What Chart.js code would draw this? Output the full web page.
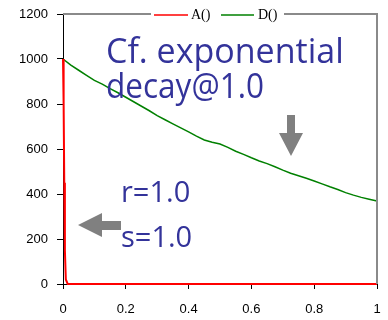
<!DOCTYPE html>
<html>
<head>
<meta charset="utf-8">
<script src="https://cdn.jsdelivr.net/npm/chart.js@4/dist/chart.umd.min.js"></script>
<style>
html,body{margin:0;padding:0;background:#fff;}
#wrap{width:388px;height:320px;}
</style>
</head>
<body>
<div id="wrap"><canvas id="grafico" width="388" height="320"></canvas></div>
<script>
// datos
const aX = [0, 0.002, 0.004, 0.006, 0.009, 0.015, 1];
const aY = [1000, 800, 450, 150, 20, 0, 0];

const dX = [0, 0.025, 0.05, 0.075, 0.1, 0.125, 0.15, 0.175, 0.2, 0.225, 0.25, 0.275, 0.3, 0.325, 0.35, 0.375, 0.4,
  0.425, 0.45, 0.475, 0.5, 0.525, 0.55, 0.575, 0.6, 0.625, 0.65, 0.675, 0.7, 0.725, 0.75, 0.775, 0.8,
  0.825, 0.85, 0.875, 0.9, 0.925, 0.95, 0.975, 1];
const dY = [1000, 973, 950, 927, 905, 888, 868, 850, 830, 810, 790, 770, 748, 730, 712, 694, 676,
  657, 640, 630, 622, 607, 590, 576, 561, 547, 535, 521, 506, 492, 481, 470, 458,
  445, 432, 420, 406, 395, 385, 377, 369];

const serieNombres = ["A()", "D()"];
const yTicks = [0, 200, 400, 600, 800, 1000, 1200];
const xTicks = [0, 0.2, 0.4, 0.6, 0.8, 1];

const puntos = (xs, ys) => xs.map((x, i) => ({x: x, y: ys[i]}));

const marco = {
  id: "marco",
  afterDraw(chart) {
    const c = chart.ctx, a = chart.chartArea;
    c.save();
    // borde arriba y derecha
    c.strokeStyle = "#8a8a8a";
    c.lineWidth = 2;
    c.beginPath();
    c.moveTo(a.left, a.top);
    c.lineTo(a.right, a.top);
    c.lineTo(a.right, a.bottom);
    c.stroke();
    // leyenda encima del borde
    c.fillStyle = "#fff";
    c.fillRect(151, 6, 133, 17);
    c.font = "14px 'Liberation Serif', serif";
    c.textBaseline = "middle";
    c.fillStyle = "#000";
    c.lineWidth = 1.5;
    c.strokeStyle = "#ff0000";
    c.beginPath(); c.moveTo(154, 15); c.lineTo(188, 15); c.stroke();
    c.fillText(serieNombres[0], 191, 15);
    c.strokeStyle = "#008000";
    c.beginPath(); c.moveTo(221, 15); c.lineTo(254, 15); c.stroke();
    c.fillText(serieNombres[1], 258, 15);

    // textos
    c.fillStyle = "#33339a";
    c.textBaseline = "alphabetic";
    c.font = "34px 'Open Sans', sans-serif";
    c.fillText("Cf. exponential", 106, 63, 252);
    c.fillText("decay@1.0", 106, 98, 158);
    c.font = "29px 'Open Sans', sans-serif";
    c.fillText("r=1.0", 121, 202);
    c.fillText("s=1.0", 121, 247);

    // flechas grises
    c.fillStyle = "#808080";
    c.beginPath();
    c.moveTo(78, 225); c.lineTo(102, 213); c.lineTo(102, 221); c.lineTo(121, 221);
    c.lineTo(121, 230); c.lineTo(102, 230); c.lineTo(102, 237); c.closePath();
    c.fill();
    c.beginPath();
    c.moveTo(287, 115); c.lineTo(295, 115); c.lineTo(295, 133); c.lineTo(303, 133);
    c.lineTo(291, 156); c.lineTo(279, 133); c.lineTo(287, 133); c.closePath();
    c.fill();
    c.restore();
  }
};

new Chart(document.getElementById("grafico"), {
  type: "line",
  data: {
    datasets: [
      {label: serieNombres[0], data: puntos(aX, aY), borderColor: "#ff0000", borderWidth: 2, pointRadius: 0, tension: 0, clip: 4},
      {label: serieNombres[1], data: puntos(dX, dY), borderColor: "#008000", borderWidth: 1.5, pointRadius: 0, tension: 0, clip: 4}
    ]
  },
  options: {
    responsive: false,
    animation: false,
    layout: {padding: {left: 0, right: 11, top: 14, bottom: 0}},
    plugins: {legend: {display: false}, tooltip: {enabled: false}},
    scales: {
      x: {
        type: "linear", min: 0, max: 1,
        afterBuildTicks: s => { s.ticks = xTicks.map(v => ({value: v})); },
        afterFit: s => { s.height = 36; s.paddingLeft = 0; s.paddingRight = 0; },
        border: {color: "#000", width: 1},
        grid: {drawOnChartArea: false, tickLength: 5, color: "#000"},
        ticks: {color: "#000", padding: 13, maxRotation: 0, callback: v => String(v),
          font: {family: "'Liberation Sans', Arial", size: 13}}
      },
      y: {
        min: 0, max: 1200,
        afterBuildTicks: s => { s.ticks = yTicks.map(v => ({value: v})); },
        afterFit: s => { s.width = 63; s.paddingTop = 0; s.paddingBottom = 0; },
        border: {color: "#000", width: 1},
        grid: {drawOnChartArea: false, tickLength: 6, color: "#000"},
        ticks: {color: "#000", padding: 9, callback: v => String(v),
          font: {family: "'Liberation Sans', Arial", size: 13}}
      }
    }
  },
  plugins: [marco]
});
</script>
</body>
</html>
